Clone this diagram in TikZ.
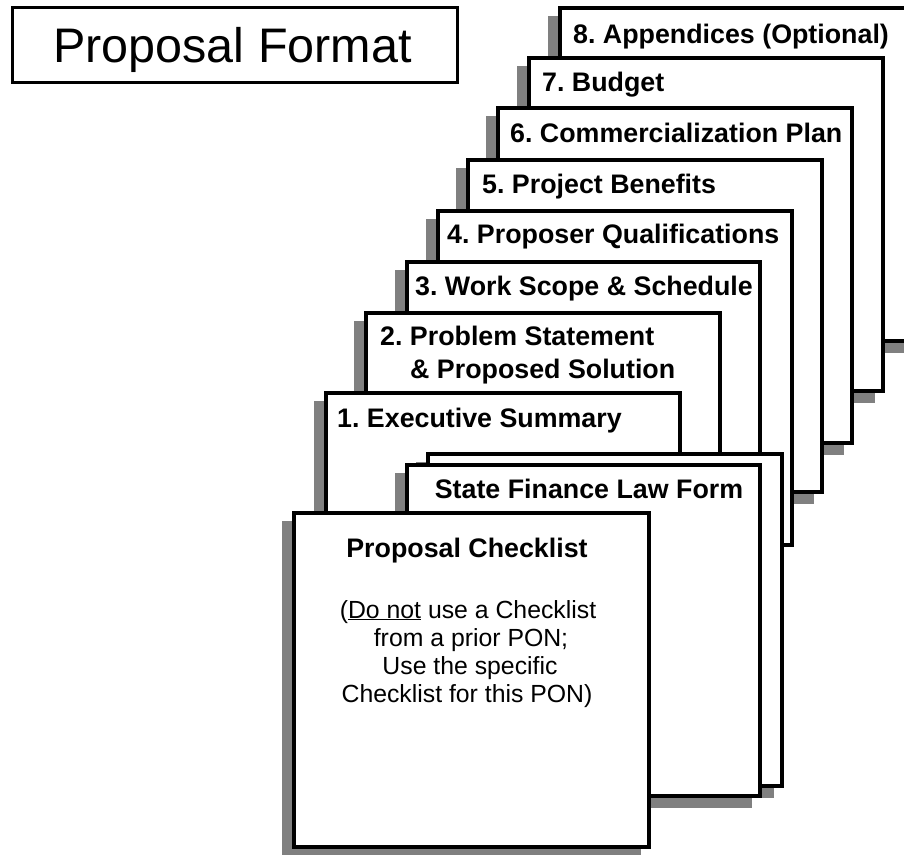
\documentclass[tikz,border=0pt]{standalone}
\usepackage{fontspec}
\setmainfont{Liberation Sans}
\frenchspacing
\definecolor{shadowgray}{RGB}{128,128,128}
\tikzset{
  page/.style={draw=black, fill=white, line width=4pt, anchor=north west,
    inner sep=0pt, outer sep=0pt, minimum width=354pt, minimum height=333pt,
    preaction={draw=shadowgray, fill=shadowgray, line width=4pt,
      transform canvas={shift={(-10pt,-10pt)}}}},
  ptitle/.style={anchor=base west, inner sep=0pt, font=\fontsize{26.8}{30}\selectfont\bfseries},
  ctitle/.style={anchor=base, inner sep=0pt, font=\fontsize{26.8}{30}\selectfont\bfseries},
  cbody/.style={anchor=base, inner sep=0pt, font=\fontsize{24.8}{28}\selectfont},
  titlebox/.style={draw=black, line width=3pt, inner sep=0pt, minimum width=445pt, minimum height=75pt}
}
\begin{document}
\frenchspacing
\begin{tikzpicture}[x=1pt, y=-1pt]
\useasboundingbox (0,0) rectangle (904,854);
\clip (0,0) rectangle (904,854);
\fill[white] (0,0) rectangle (904,854);
% title
\node[titlebox] (tbox) at (234.5,44.5) {};
\node[anchor=base, inner sep=0pt, font=\fontsize{48.5}{52}\selectfont] (ttext) at (232.5,62) {Proposal Format};
% pages back to front
\node[page] (p8) at (560,8) {};
\node[ptitle] (t8) at (573,43) {8. Appendices (Optional)};
\node[page] (p7) at (529,58) {};
\node[ptitle] (t7) at (542,91) {7. Budget};
\node[page, minimum height=335pt] (p6) at (498,108) {};
\node[ptitle] (t6) at (510,142) {6. Commercialization Plan};
\node[page, minimum height=332pt] (p5) at (468,160) {};
\node[ptitle] (t5) at (482,193) {5. Project Benefits};
\node[page, minimum height=334pt] (p4) at (438,211) {};
\node[ptitle] (t4) at (447,243) {4. Proposer Qualifications};
\node[page, minimum width=353pt] (p3) at (407,262) {};
\node[ptitle] (t3) at (415,295) {3. Work Scope \& Schedule};
\node[page] (p2) at (366,313) {};
\node[ptitle] (t2a) at (380,345) {2. Problem Statement};
\node[ptitle] (t2b) at (410,378) {\& Proposed Solution};
\node[page] (p1) at (326,393) {};
\node[ptitle] (t1) at (337,427) {1. Executive Summary};
\node[page, minimum height=332pt] (sb) at (428,454) {};
\node[page, minimum width=353pt, minimum height=331pt] (sf) at (407,465) {};
\node[ctitle] (ts) at (589,498) {State Finance Law Form};
\node[page, minimum width=355pt, minimum height=334pt] (chk) at (294,513) {};
\node[ctitle] (tc) at (467,557) {Proposal Checklist};
\node[cbody] (c1) at (468,618) {(\underline{Do not} use a Checklist};
\node[cbody] (c2) at (471,646) {from a prior PON;};
\node[cbody] (c3) at (470,674) {Use the specific};
\node[cbody] (c4) at (467,702) {Checklist for this PON)};
\end{tikzpicture}
\end{document}
